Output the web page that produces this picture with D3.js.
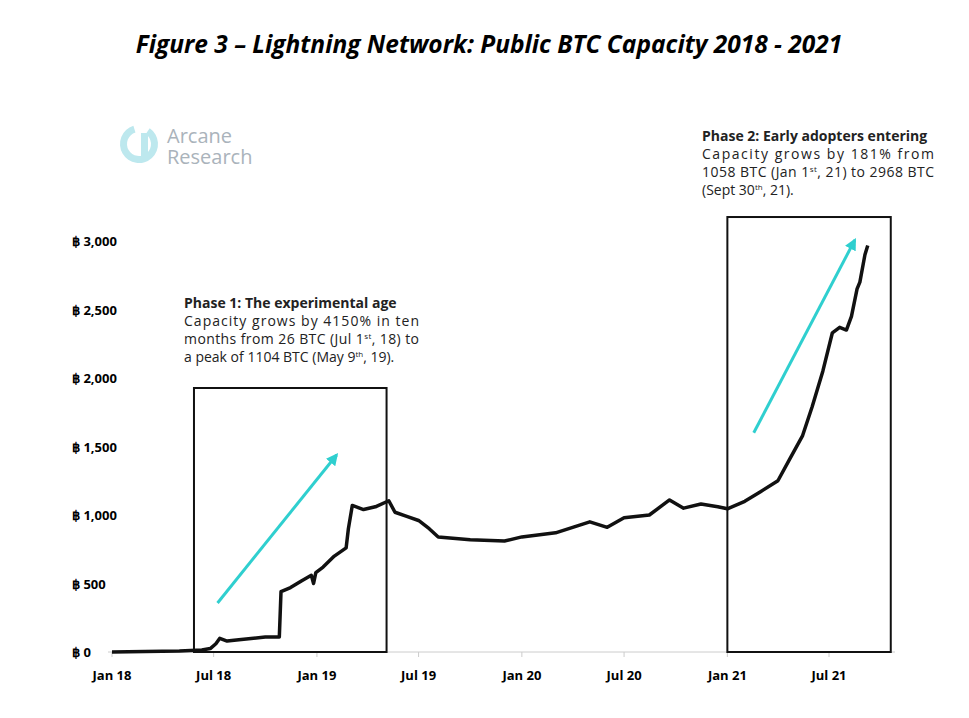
<!DOCTYPE html>
<html lang="en">
<head>
<meta charset="UTF-8">
<title>Lightning Network: Public BTC Capacity</title>
<script src="https://d3js.org/d3.v7.min.js"></script>
<style>
  body { margin: 0; background: #fff; }
  svg { font-family: "Open Sans", sans-serif; }
</style>
</head>
<body>
<svg id="chart" width="969" height="718"></svg>
<script>
// capacity series (date, BTC)
var dates = ["2018-01-01","2018-03-01","2018-05-01","2018-06-10","2018-06-25","2018-07-05","2018-07-12","2018-07-25","2018-08-15","2018-09-10","2018-10-01","2018-10-26","2018-10-29","2018-11-15","2018-12-05","2018-12-22","2018-12-26","2018-12-30","2019-01-12","2019-02-01","2019-02-22","2019-02-26","2019-03-05","2019-03-25","2019-04-15","2019-05-09","2019-05-20","2019-06-10","2019-07-01","2019-07-20","2019-08-05","2019-10-01","2019-12-01","2020-01-01","2020-03-01","2020-05-01","2020-06-01","2020-07-01","2020-08-15","2020-09-20","2020-10-15","2020-11-15","2020-12-15","2021-01-01","2021-02-01","2021-03-01","2021-04-01","2021-04-21","2021-05-15","2021-06-01","2021-06-20","2021-07-07","2021-07-20","2021-08-01","2021-08-10","2021-08-20","2021-08-25","2021-09-03","2021-09-08"];
var values = [0,3,8,15,25,60,100,80,90,100,110,110,440,470,520,560,500,580,620,700,760,900,1070,1040,1060,1104,1020,990,960,900,840,820,810,840,870,950,910,980,1000,1110,1050,1080,1060,1045,1100,1170,1250,1400,1580,1790,2050,2330,2370,2350,2450,2650,2700,2900,2968];
var yTicks = [0,500,1000,1500,2000,2500,3000];
var xTicks = ["2018-01-01","2018-07-01","2019-01-01","2019-07-01","2020-01-01","2020-07-01","2021-01-01","2021-07-01"];
var xTickLabels = ["Jan 18","Jul 18","Jan 19","Jul 19","Jan 20","Jul 20","Jan 21","Jul 21"];
// highlight boxes and arrows in data units
var boxes = [["2018-05-27","2019-05-05",0,1927],["2021-01-01","2021-10-19",0,3175]];
var arrows = [["2018-07-08",358,"2019-02-05",1438],["2021-02-17",1600,"2021-08-16",3007]];

var parse = d3.timeParse("%Y-%m-%d");
var svg = d3.select("#chart");
var x = d3.scaleTime().domain([parse("2018-01-01"), parse("2021-07-01")]).range([112, 829]);
var y = d3.scaleLinear().domain([0, 3000]).range([652, 241]);

svg.append("defs").append("marker")
  .attr("id", "ah").attr("viewBox", "0 0 10 10").attr("refX", 8).attr("refY", 5)
  .attr("markerWidth", 4).attr("markerHeight", 4).attr("orient", "auto")
  .append("path").attr("d", "M0,0L10,5L0,10z").attr("fill", "#2fcfcf");

// title
svg.append("text").attr("x", 489).attr("y", 53).attr("text-anchor", "middle")
  .attr("font-size", 24.5).attr("font-weight", "bold").attr("font-style", "italic")
  .text("Figure 3 – Lightning Network: Public BTC Capacity 2018 - 2021");

// logo
var logo = svg.append("g").attr("transform", "translate(120,124)");
logo.append("path").attr("d", d3.arc()({innerRadius: 12, outerRadius: 19, startAngle: 0.6, endAngle: 2 * Math.PI - 0.3}))
  .attr("transform", "translate(19,20)").attr("fill", "#bde8ee");
logo.append("rect").attr("x", 21).attr("y", 9).attr("width", 7).attr("height", 24).attr("fill", "#bde8ee");
logo.append("text").attr("x", 47).attr("y", 19).attr("font-size", 20).attr("fill", "#aab3bb").text("Arcane");
logo.append("text").attr("x", 47).attr("y", 40).attr("font-size", 20).attr("fill", "#aab3bb").text("Research");

// axes
svg.append("line").attr("x1", 108).attr("x2", 895).attr("y1", y(0)).attr("y2", y(0))
  .attr("stroke", "#ccc");
svg.selectAll(".yl").data(yTicks).join("text")
  .attr("x", 72).attr("y", d => y(d) + 5).attr("font-size", 13).attr("font-weight", "bold")
  .text(d => "฿ " + d3.format(",")(d));
svg.selectAll(".xt").data(xTicks).join("line")
  .attr("x1", d => x(parse(d))).attr("x2", d => x(parse(d)))
  .attr("y1", y(0)).attr("y2", y(0) + 5).attr("stroke", "#ccc");
svg.selectAll(".xl").data(xTicks).join("text")
  .attr("x", d => x(parse(d))).attr("y", 680).attr("text-anchor", "middle")
  .attr("font-size", 13).attr("font-weight", "bold")
  .text((d, i) => xTickLabels[i]);

// boxes
svg.selectAll(".box").data(boxes).join("rect")
  .attr("x", d => x(parse(d[0]))).attr("y", d => y(d[3]))
  .attr("width", d => x(parse(d[1])) - x(parse(d[0])))
  .attr("height", d => y(d[2]) - y(d[3]))
  .attr("fill", "none").attr("stroke", "#111").attr("stroke-width", 2);

// line
var series = dates.map((d, i) => ({date: parse(d), value: values[i]}));
svg.append("path").datum(series)
  .attr("fill", "none").attr("stroke", "#111").attr("stroke-width", 3.5).attr("stroke-linejoin", "round")
  .attr("d", d3.line().x(d => x(d.date)).y(d => y(d.value)));

// arrows
svg.selectAll(".arr").data(arrows).join("line")
  .attr("x1", d => x(parse(d[0]))).attr("y1", d => y(d[1]))
  .attr("x2", d => x(parse(d[2]))).attr("y2", d => y(d[3]))
  .attr("stroke", "#2fcfcf").attr("stroke-width", 3).attr("marker-end", "url(#ah)");

// annotations: each line is a list of [text, superscript?]; width = justified width
function note(x0, y0, width, lines) {
  lines.forEach(function (parts, i) {
    var t = svg.append("text").attr("x", x0).attr("y", y0 + i * 18)
      .attr("font-size", 14).attr("fill", "#222")
      .attr("font-weight", i === 0 ? "bold" : "normal");
    parts.forEach(function (p) {
      var s = t.append("tspan").text(p[0]);
      if (p[1]) s.attr("font-size", 8).attr("dy", -5);
      else if (p[2]) s.attr("dy", 5);
    });
    if (i > 0 && i < lines.length - 1) t.attr("textLength", width).attr("lengthAdjust", "spacing");
  });
}
note(184, 308, 235, [
  [["Phase 1: The experimental age"]],
  [["Capacity grows by 4150% in ten"]],
  [["months from 26 BTC (Jul 1"], ["st", 1], [", 18) to", 0, 1]],
  [["a peak of 1104 BTC (May 9"], ["th", 1], [", 19).", 0, 1]]
]);
note(702, 141, 232, [
  [["Phase 2: Early adopters entering"]],
  [["Capacity grows by 181% from"]],
  [["1058 BTC (Jan 1"], ["st", 1], [", 21) to 2968 BTC", 0, 1]],
  [["(Sept 30"], ["th", 1], [", 21).", 0, 1]]
]);
</script>
</body>
</html>
